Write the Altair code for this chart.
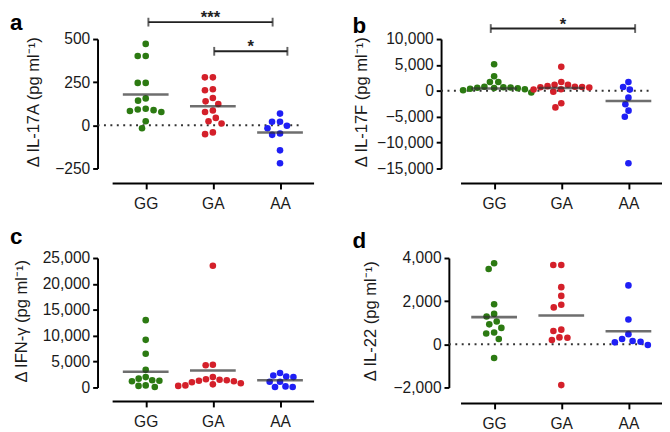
import math
import altair as alt
import pandas as pd

genotypes = ["GG", "GA", "AA"]
colors = ["#2c7a12", "#d4202a", "#1f1ff5"]

# Panel a: delta IL-17A
a_GG = [472, 402, 402, 246, 246, 143, 156, 92, 83, 77, 88, 96, 24, -17]
a_GA = [278, 278, 203, 209, 158, 139, 124, 77, 86, 43, 24, 11, -51, -41]
a_AA = [68, 21, 21, -2, -17, -55, -47, -145, -220]
a_lines = [179, 111, -41]

# Panel b: delta IL-17F
b_GG = [5130, 2820, 1690, 1690, 800, 700, 650, 600, 550, 500, 400, 300, 100, -320]
b_GA = [4630, 1690, 1180, 1180, 900, 800, 750, 700, 650, 300, 250, -190, -2390, -3200]
b_AA = [1690, 750, 240, -1320, -2580, -3830, -5020, -13990]
b_lines = [430, 560, -1950]

# Panel c: delta IFN-gamma
c_GG = [13000, 9200, 6500, 3400, 2000, 1700, 1400, 1300, 1200, 400, 300, 100]
c_GA = [23500, 4400, 4300, 2000, 1600, 1500, 1400, 1300, 1200, 1000, 800, 600, 400, 300]
c_AA = [2800, 2300, 2100, 2000, 1100, 1100, 200, 100, 100]
c_lines = [3020, 3280, 1400]

# Panel d: delta IL-22
d_GG = [3760, 3490, 1860, 1410, 1290, 1060, 925, 760, 500, 545, 245, -636]
d_GA = [3680, 3680, 2650, 2245, 1835, 1710, 620, 680, 305, 200, 320, -1890]
d_AA = [2730, 1150, 470, 245, 120, -30, 90, 155]
d_lines = [1260, 1335, 610]

# significance brackets: (from, to, level, label)
a_brackets = [(0.04, 1.89, 598, "***"), (1.02, 2.11, 429, "*")]
b_brackets = [(-0.05, 2.1, 12030, "*")]

PW, PH = 207, 133


def swarm(values, px_per_unit, px_per_cat, dot):
    order = sorted(range(len(values)), key=lambda i: -values[i])
    placed, offs = [], [0.0] * len(values)
    for i in order:
        y = values[i] * px_per_unit
        near = [(px, py) for px, py in placed if abs(py - y) < dot]
        cands = [0.0]
        for px, py in near:
            w = math.sqrt(dot * dot - (py - y) ** 2)
            cands += [px - w, px + w]
        cands.sort(key=lambda c: (abs(c), c))
        best = 0.0
        for c in cands:
            if all((c - px) ** 2 + (y - py) ** 2 >= dot * dot - 1e-6 for px, py in near):
                best = c
                break
        placed.append((best, y))
        offs[i] = best / px_per_cat
    return offs


def panel(letter, groups, lines, domain, ticks, title, yoff, xoff, title_x, zero_line, brackets,
          letter_dx, letter_offset, dot):
    ppu = PH / (domain[1] - domain[0])
    ppc = PW / 3
    rows = []
    for gi, vals in enumerate(groups):
        offs = swarm(vals, ppu, ppc, dot)
        for v, o in zip(vals, offs):
            rows.append({"x": gi + o, "v": v, "g": genotypes[gi]})
    pts = pd.DataFrame(rows)
    means = pd.DataFrame({"x": [0, 1, 2], "v": lines})

    xscale = alt.Scale(domain=[-0.5, 2.5], nice=False, zero=False)
    yscale = alt.Scale(domain=domain, nice=False, zero=False)
    label_expr = "[" + ",".join("'%s'" % g for g in genotypes) + "][datum.value]"
    xaxis = alt.Axis(values=[0, 1, 2], labelExpr=label_expr, title=None, grid=False, offset=xoff,
                     domainColor="black", domainWidth=2, tickColor="black", tickWidth=2, tickSize=6,
                     labelFont="Liberation Sans", labelFontSize=16, labelColor="#1a1a1a", labelPadding=7)
    yaxis = alt.Axis(values=ticks, format=",.0f", title=title, grid=False, offset=yoff,
                     domainColor="black", domainWidth=2, tickColor="black", tickWidth=2, tickSize=5,
                     labelFont="Liberation Sans", labelFontSize=16, labelColor="#1a1a1a", labelPadding=3,
                     titleFont="Liberation Sans", titleFontSize=17, titleFontWeight="normal",
                     titleColor="#1a1a1a", titleAngle=270, titleBaseline="middle", titleAlign="center",
                     titleX=title_x, titleY=PH / 2 - 2)

    def X(f="x"):
        return alt.X(f + ":Q", scale=xscale, axis=xaxis)

    def Y(f="v"):
        return alt.Y(f + ":Q", scale=yscale, axis=yaxis)

    layers = []
    if zero_line:
        zl = pd.DataFrame({"x": [-0.5 - yoff / ppc], "x2": [zero_line], "v": [0]})
        layers.append(alt.Chart(zl).mark_rule(color="#333333", strokeWidth=2, strokeDash=[2, 4.6])
                      .encode(x=X(), x2="x2:Q", y=Y()))
    layers.append(alt.Chart(pts).mark_circle(size=46, opacity=1).encode(
        x=X(), y=Y(),
        color=alt.Color("g:N", scale=alt.Scale(domain=genotypes, range=colors), legend=None)))
    layers.append(alt.Chart(means).mark_tick(orient="horizontal", size=47, thickness=2.6, color="#303030")
                  .encode(x=X(), y=Y()))
    if brackets:
        bdf = pd.DataFrame([{"x": b[0], "x2": b[1], "v": b[2], "xm": (b[0] + b[1]) / 2, "lab": b[3]}
                            for b in brackets])
        caps = pd.DataFrame([{"x": b[k], "v": b[2]} for b in brackets for k in (0, 1)])
        layers.append(alt.Chart(bdf).mark_rule(color="#222222", strokeWidth=2)
                      .encode(x=X(), x2="x2:Q", y=Y()))
        layers.append(alt.Chart(caps).mark_tick(orient="vertical", size=9, thickness=2, color="#222222")
                      .encode(x=X(), y=Y()))
        layers.append(alt.Chart(bdf).mark_text(font="Liberation Sans", fontSize=17, fontWeight="bold",
                                               baseline="alphabetic", dy=1, color="#222222")
                      .encode(x=X("xm"), y=Y(), text="lab:N"))
    return alt.layer(*layers).properties(
        width=PW, height=PH,
        title=alt.TitleParams(text=letter, anchor="start", frame="group", fontSize=23, fontWeight="bold",
                              font="Liberation Sans", color="black", dx=letter_dx, offset=letter_offset))


pa = panel("a", [a_GG, a_GA, a_AA], a_lines, [-250, 500], [-250, 0, 250, 500],
           "Δ IL-17A (pg ml⁻¹)", 15, 15, -66, 2.3, a_brackets, -105, -26, 8.2)
pb = panel("b", [b_GG, b_GA, b_AA], b_lines, [-15000, 10000], [-15000, -10000, -5000, 0, 5000, 10000],
           "Δ IL-17F (pg ml⁻¹)", 20, 15, -82, 2.34, b_brackets, -111, -23, 7.4)
pc = panel("c", [c_GG, c_GA, c_AA], c_lines, [0, 25000], [0, 5000, 10000, 15000, 20000, 25000],
           "Δ IFN-γ (pg ml⁻¹)", 15, 14, -78, None, None, -105, 1, 7.4)
pd_ = panel("d", [d_GG, d_GA, d_AA], d_lines, [-2000, 4000], [-2000, 0, 2000, 4000],
            "Δ IL-22 (pg ml⁻¹)", 12, 16, -80, 2.28, None, -111, -3, 8.2)

chart = alt.concat(pa, pb, pc, pd_, columns=2, spacing={"row": 92, "column": 151}, bounds="flush").properties(
    padding={"left": 2, "top": -5, "right": 0, "bottom": 0}
).configure_view(stroke=None)

chart.save("out.html", embed_options={"renderer": "svg", "actions": False})
